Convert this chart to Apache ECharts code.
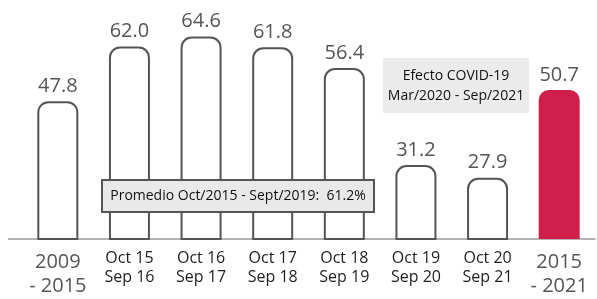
<!DOCTYPE html>
<html>
<head>
<meta charset="utf-8">
<script src="https://cdn.jsdelivr.net/npm/echarts@6/dist/echarts.min.js"></script>
<style>
  html, body { margin: 0; padding: 0; background: #fff; }
  #chart { width: 597px; height: 299px; }
</style>
</head>
<body>
<div id="chart"></div>
<script>
  const categories = ['2009\n- 2015', 'Oct 15\nSep 16', 'Oct 16\nSep 17', 'Oct 17\nSep 18',
    'Oct 18\nSep 19', 'Oct 19\nSep 20', 'Oct 20\nSep 21', '2015\n- 2021']
  const values = [47.8, 62.0, 64.6, 61.8, 56.4, 31.2, 27.9, 50.7]
  const promedioText = 'Promedio Oct/2015 - Sept/2019:  61.2%'
  const covidText = 'Efecto COVID-19\nMar/2020 - Sep/2021'

  const font = '"Open Sans", "Noto Sans", sans-serif'
  const chart = echarts.init(document.getElementById('chart'))

  const barData = values.map((v, i) => {
    if (i === values.length - 1) {
      return { value: v, itemStyle: { color: '#d11f4b', borderWidth: 0 } }
    }
    return v
  })

  chart.setOption({
    animation: false,
    grid: { left: 22, right: 2, top: 8, bottom: 60 },
    xAxis: {
      type: 'category',
      data: categories,
      axisTick: { show: false },
      axisLine: { lineStyle: { color: '#9a9a9a', width: 1.5 } },
      axisLabel: {
        interval: 0,
        margin: 10,
        formatter: function (val) {
          if (val.indexOf('Oct') === 0) {
            return '{sm|' + val.split('\n').join('}\n{sm|') + '}'
          }
          return '{big|' + val.split('\n').join('}\n{big|') + '}'
        },
        rich: {
          sm: { fontSize: 16, lineHeight: 19, color: '#1e1e1e', fontFamily: font },
          big: { fontSize: 20, lineHeight: 24, color: '#555', fontFamily: font, padding: [2, 0, 0, 0] }
        }
      }
    },
    yAxis: {
      type: 'value',
      min: 12,
      max: 72,
      show: false
    },
    series: [{
      type: 'bar',
      z: 2,
      data: barData,
      barWidth: 41,
      itemStyle: {
        color: '#fff',
        borderColor: '#555',
        borderWidth: 2,
        borderRadius: [10, 10, 0, 0]
      },
      label: {
        show: true,
        position: 'top',
        distance: 5,
        fontSize: 20,
        color: '#555',
        fontFamily: font,
        formatter: p => p.value.toFixed(1)
      }
    }],
    graphic: [
      // axis line runs a little past the first category
      {
        type: 'line',
        shape: { x1: 8, y1: 239, x2: 22, y2: 239 },
        style: { stroke: '#9a9a9a', lineWidth: 1.5 }
      },
      {
        type: 'rect',
        z: 100,
        shape: { x: 102, y: 180, width: 272, height: 32 },
        style: { fill: '#e9e9e9', stroke: '#555', lineWidth: 2 }
      },
      {
        type: 'text',
        z: 101,
        x: 238,
        y: 196,
        style: {
          text: promedioText,
          fontSize: 14,
          fontFamily: font,
          fill: '#111',
          align: 'center',
          verticalAlign: 'middle'
        }
      },
      {
        type: 'rect',
        z: 100,
        shape: { x: 383, y: 58, width: 146, height: 55 },
        style: { fill: '#ebebeb' }
      },
      {
        type: 'text',
        z: 101,
        x: 456,
        y: 86,
        style: {
          text: covidText,
          fontSize: 14,
          lineHeight: 20,
          fontFamily: font,
          fill: '#111',
          align: 'center',
          verticalAlign: 'middle'
        }
      }
    ]
  })
</script>
</body>
</html>
